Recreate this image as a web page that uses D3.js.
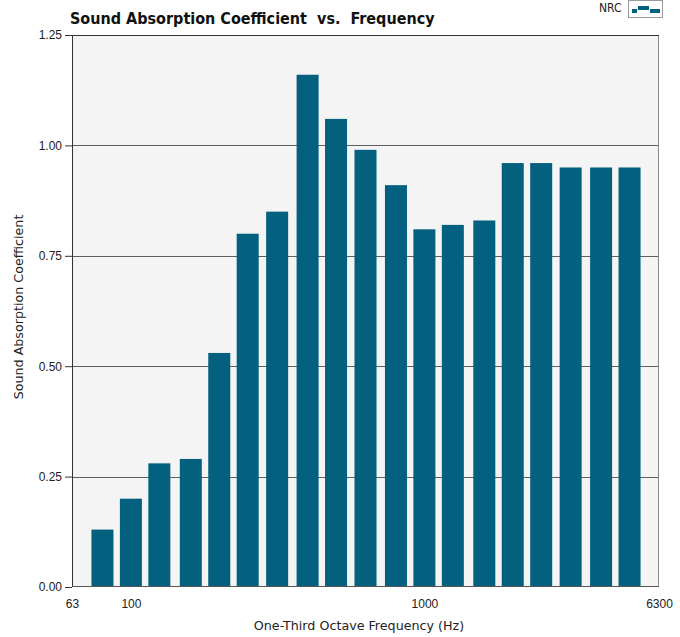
<!DOCTYPE html>
<html>
<head>
<meta charset="utf-8">
<script src="https://cdn.jsdelivr.net/npm/d3@7"></script>
<style>
  html, body { margin: 0; padding: 0; background: #ffffff; }
  svg { display: block; font-family: "DejaVu Sans Condensed", "DejaVu Sans", sans-serif; }
</style>
</head>
<body>
<svg id="chart" width="680" height="637"></svg>
<script>
// one-third octave band centre frequencies (Hz)
const freqs = [80, 100, 125, 160, 200, 250, 315, 400, 500, 630, 800, 1000, 1250, 1600, 2000, 2500, 3150, 4000, 5000];
// sound absorption coefficient per band
const coefs = [0.13, 0.20, 0.28, 0.29, 0.53, 0.80, 0.85, 1.16, 1.06, 0.99, 0.91, 0.81, 0.82, 0.83, 0.96, 0.96, 0.95, 0.95, 0.95];
const xTicks = [63, 100, 1000, 6300];
const yTicks = [0, 0.25, 0.5, 0.75, 1.0, 1.25];

const width = 680, height = 637;
const margin = { top: 35, right: 21, bottom: 50, left: 72 };
const innerW = width - margin.left - margin.right;
const innerH = height - margin.top - margin.bottom;

const svg = d3.select("#chart");
const g = svg.append("g").attr("transform", `translate(${margin.left},${margin.top})`);

const x = d3.scaleLog().domain([63, 6300]).range([0, innerW]);
const y = d3.scaleLinear().domain([0, 1.25]).range([innerH, 0]);

// plot background
g.append("rect")
  .attr("width", innerW)
  .attr("height", innerH)
  .attr("fill", "#f4f4f4");

// grid
g.selectAll(".grid")
  .data(yTicks.slice(1, -1))
  .join("line")
  .attr("class", "grid")
  .attr("x1", 0).attr("x2", innerW)
  .attr("y1", d => Math.round(y(d)) + 0.5)
  .attr("y2", d => Math.round(y(d)) + 0.5)
  .attr("stroke", "#5e5e5e")
  .attr("stroke-width", 1);

// bars (each spans +/- 0.0375 decade around its centre frequency)
const half = Math.pow(10, 0.0375);
g.selectAll(".bar")
  .data(freqs.map((f, i) => ({ f, v: coefs[i] })))
  .join("rect")
  .attr("class", "bar")
  .attr("x", d => x(d.f / half))
  .attr("width", d => x(d.f * half) - x(d.f / half))
  .attr("y", d => y(d.v))
  .attr("height", d => y(0) - y(d.v))
  .attr("fill", "#03617f");

// frame
g.append("rect")
  .attr("x", 0.5).attr("y", 0.5)
  .attr("width", innerW - 1)
  .attr("height", innerH - 1)
  .attr("fill", "none")
  .attr("stroke", "#8a8a8a");
g.append("path")
  .attr("d", `M0.5,${innerH}V0.5H${innerW}`)
  .attr("fill", "none")
  .attr("stroke", "#333");
g.append("line")
  .attr("x1", 0).attr("x2", innerW)
  .attr("y1", innerH - 0.5).attr("y2", innerH - 0.5)
  .attr("stroke", "#555");

// Axes
const yAxis = d3.axisLeft(y)
  .tickValues(yTicks)
  .tickFormat(d3.format(".2f"))
  .tickSize(7)
  .tickPadding(3);
const yg = g.append("g").call(yAxis);
yg.select(".domain").remove();
yg.selectAll("line").attr("stroke", "#333");
yg.selectAll("text").attr("font-size", 12).attr("fill", "#222");

const xAxis = d3.axisBottom(x)
  .tickValues(xTicks)
  .tickFormat(d3.format("d"))
  .tickSize(0)
  .tickPadding(12);
const xg = g.append("g").attr("transform", `translate(0,${innerH})`).call(xAxis);
xg.select(".domain").remove();
xg.selectAll("text").attr("font-size", 12).attr("fill", "#222");

// titles
svg.append("text")
  .attr("x", 70).attr("y", 24)
  .attr("font-size", 16)
  .attr("font-weight", "bold")
  .attr("fill", "#111")
  .attr("xml:space", "preserve")
  .style("white-space", "pre")
  .text("Sound Absorption Coefficient  vs.  Frequency");

svg.append("text")
  .attr("x", 359).attr("y", 630)
  .attr("text-anchor", "middle")
  .attr("font-family", "DejaVu Sans")
  .attr("font-size", 12.7)
  .attr("fill", "#222")
  .text("One-Third Octave Frequency (Hz)");

svg.append("text")
  .attr("transform", "translate(23,307) rotate(-90)")
  .attr("text-anchor", "middle")
  .attr("font-family", "DejaVu Sans")
  .attr("font-size", 12.7)
  .attr("fill", "#222")
  .text("Sound Absorption Coefficient");

// legend
const lg = svg.append("g").attr("transform", "translate(598,0)");
lg.append("text")
  .attr("x", 1).attr("y", 12)
  .attr("font-size", 12)
  .attr("fill", "#222")
  .text("NRC");
lg.append("rect")
  .attr("x", 30.5).attr("y", 0.5)
  .attr("width", 34).attr("height", 17)
  .attr("fill", "#ffffff")
  .attr("stroke", "#9a9a9a");
const icon = [[34, 9, 5, 4], [40, 6, 11, 4], [52, 9, 10, 4]];
lg.selectAll(".icon")
  .data(icon)
  .join("rect")
  .attr("class", "icon")
  .attr("x", d => d[0]).attr("y", d => d[1])
  .attr("width", d => d[2]).attr("height", d => d[3])
  .attr("fill", "#03617f");
</script>
</body>
</html>
